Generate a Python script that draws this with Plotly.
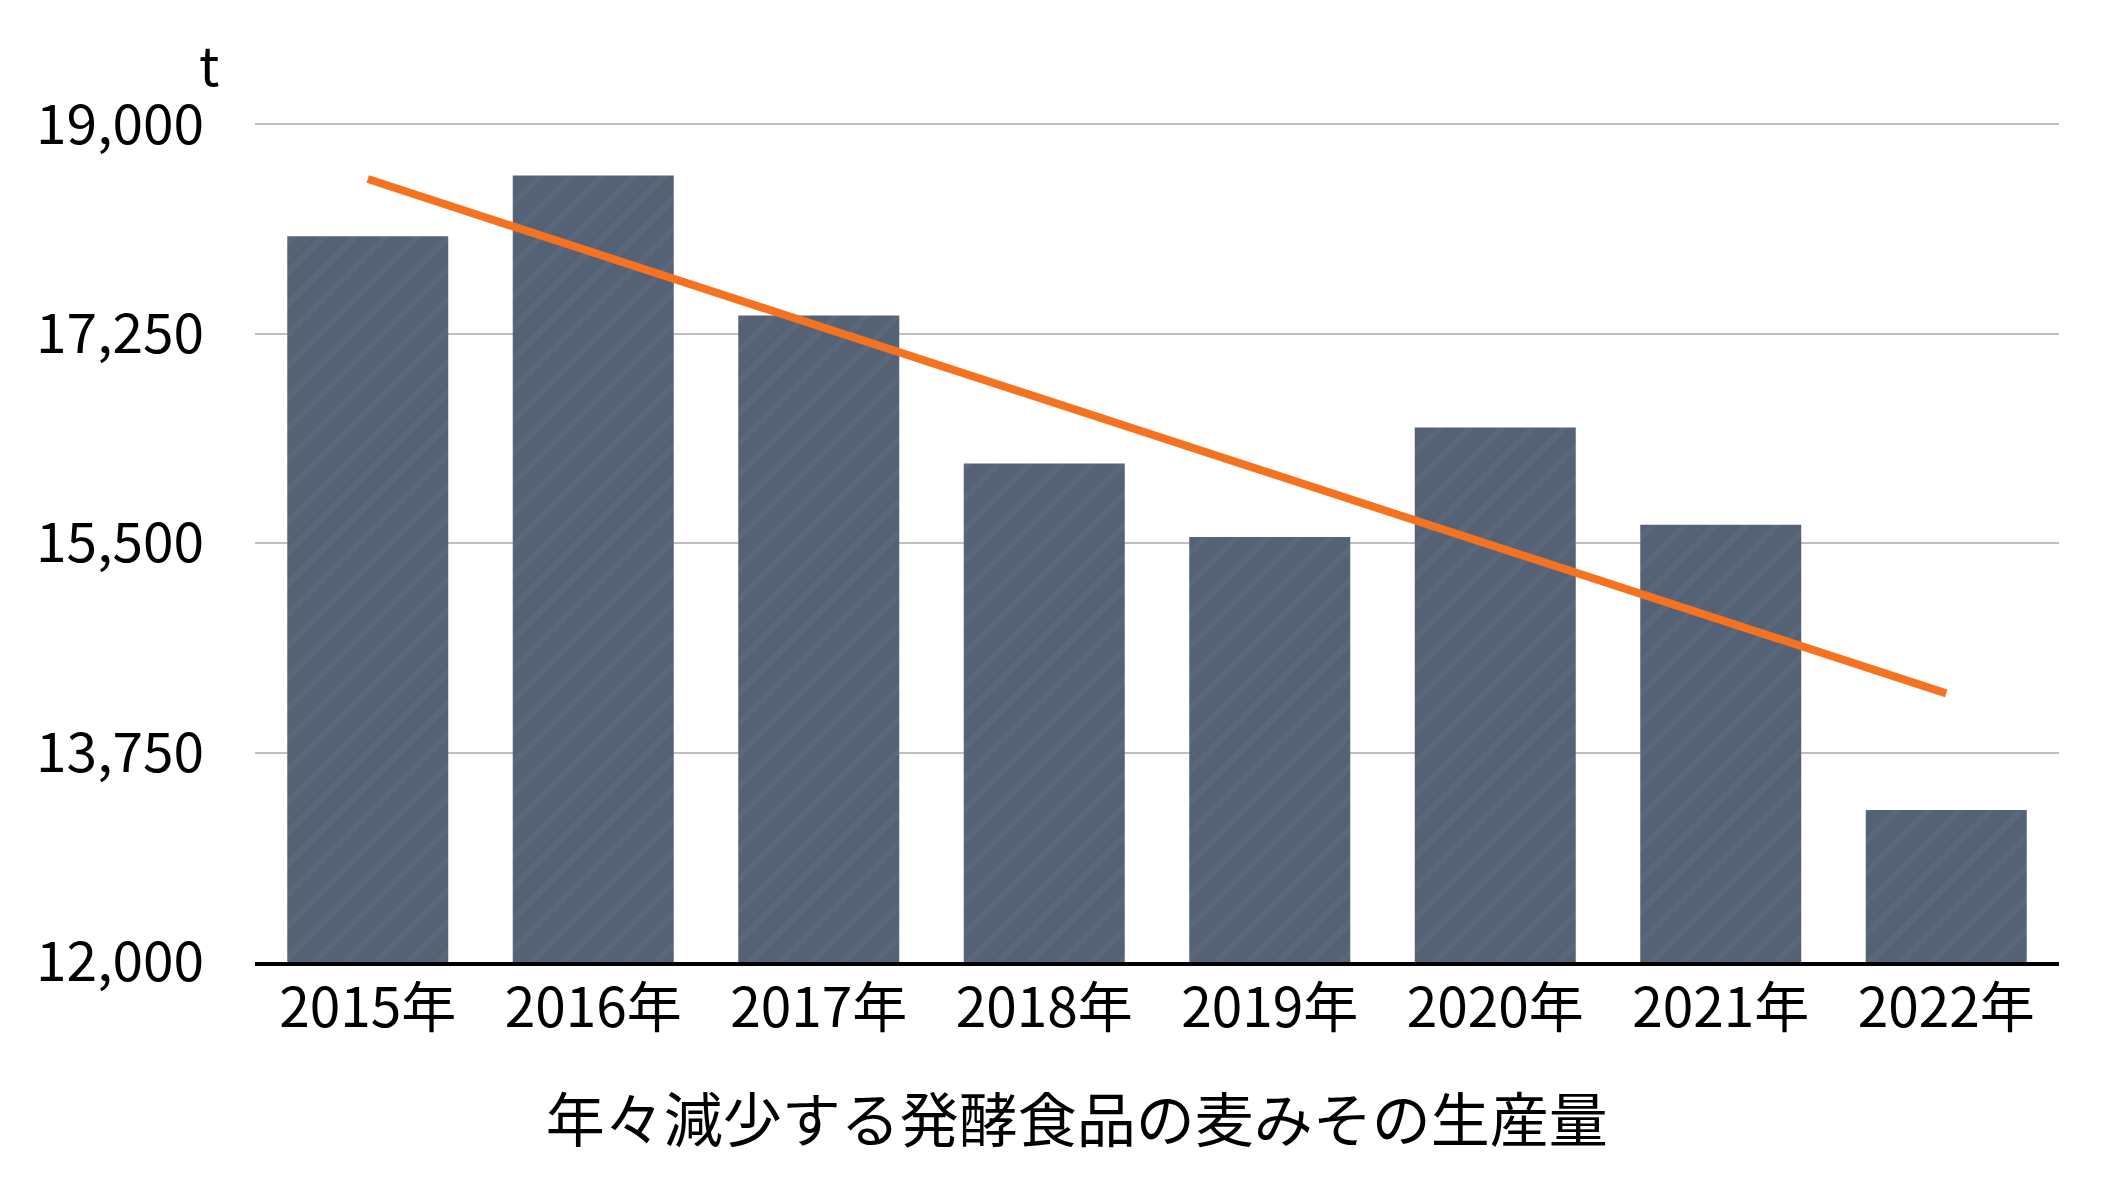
import numpy as np
import plotly.graph_objects as go

categories = ["2015年", "2016年", "2017年", "2018年", "2019年", "2020年", "2021年", "2022年"]
production = [18066, 18573, 17403, 16165, 15552, 16466, 15655, 13271]
y_tickvals = [12000, 13750, 15500, 17250, 19000]
y_ticktext = ["12,000", "13,750", "15,500", "17,250", "19,000"]
title_text = "年々減少する発酵食品の麦みその生産量"
unit_text = "t"

# linear trend line fitted to the data
xi = np.arange(len(production))
slope, intercept = np.polyfit(xi, production, 1)
trend = [intercept, intercept + slope * xi[-1]]
trend_x = [categories[0], categories[-1]]

FONT = "Noto Sans CJK JP"

fig = go.Figure()
fig.add_trace(go.Bar(
    x=categories, y=production,
    marker=dict(color="#556275", line=dict(width=0),
                pattern=dict(shape="/", fgcolor="#6a7a8e", fgopacity=0.25, size=22, solidity=0.25)),
    hoverinfo="x+y", showlegend=False,
))
fig.add_trace(go.Scatter(
    x=trend_x, y=trend, mode="lines",
    line=dict(color="#F47220", width=8),
    showlegend=False, hoverinfo="skip",
))

fig.update_layout(
    width=2128, height=1196,
    margin=dict(l=255, r=69, t=119, b=234, autoexpand=False),
    paper_bgcolor="white", plot_bgcolor="white",
    bargap=0.286,
    font=dict(family=FONT, color="black", size=55),
    title=dict(text=title_text, font=dict(family=FONT, size=59, color="black"),
               xref="container", yref="container", x=0.506, xanchor="center",
               y=1 - 1121 / 1196, yanchor="middle"),
    xaxis=dict(showline=True, linecolor="black", linewidth=4, ticks="",
               tickfont=dict(family=FONT, size=55), showgrid=False,
               ticklabelstandoff=-5),
    yaxis=dict(range=[12000, 19045], tickvals=y_tickvals, ticktext=y_ticktext,
               showgrid=True, gridcolor="#BFBFBF", gridwidth=2, zeroline=False,
               showline=False, ticks="", tickfont=dict(family=FONT, size=55),
               ticklabelstandoff=50),
    annotations=[dict(text=unit_text, xref="paper", yref="paper",
                      x=(221 - 255) / 1804, y=(962 - 63) / 843,
                      xanchor="right", yanchor="middle", showarrow=False,
                      font=dict(family=FONT, size=54, color="black"))],
)

fig.write_html("out.html", config={"displayModeBar": False},
               post_script="document.body.style.margin='0';document.body.style.overflow='hidden';")
